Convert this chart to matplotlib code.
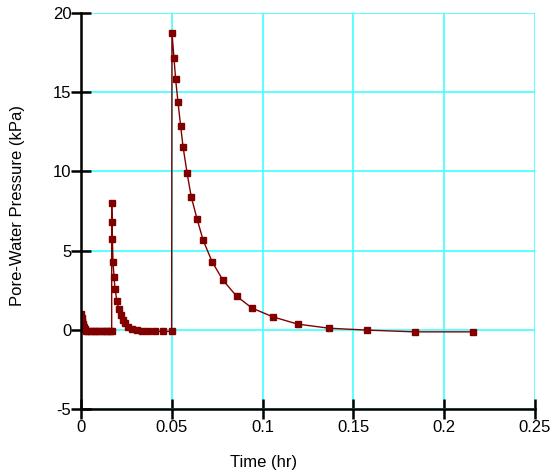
import numpy as np
import matplotlib
matplotlib.use("Agg")
from matplotlib import pyplot as plt

plt.rcParams["font.family"] = ["Liberation Sans", "DejaVu Sans"]
plt.rcParams["axes.unicode_minus"] = False

# time (hr) and pore-water pressure (kPa)
time_hr = [
    0.0, 0.0003, 0.0006, 0.0010, 0.0015, 0.0021, 0.0030,
    0.0040, 0.0055, 0.0070, 0.0085, 0.0100, 0.0115, 0.0130, 0.0145, 0.0158, 0.0169,
    0.0169, 0.0171, 0.0173, 0.0176, 0.0182, 0.0187, 0.0198, 0.0209, 0.0219,
    0.0229, 0.0242, 0.0259, 0.0279, 0.0307, 0.0334, 0.0369, 0.0407, 0.0452, 0.0499,
    0.0501, 0.0512, 0.0521, 0.0534, 0.0549, 0.0562, 0.0584, 0.0607, 0.0639,
    0.0673, 0.0723, 0.0782, 0.0857, 0.0942, 0.1056, 0.1193, 0.1366, 0.1575,
    0.1838, 0.2160,
]
pressure_kpa = [
    1.0, 0.75, 0.55, 0.38, 0.2, 0.05, -0.05,
    -0.1, -0.1, -0.1, -0.1, -0.1, -0.1, -0.1, -0.1, -0.1, -0.1,
    8.0, 6.8, 5.75, 4.3, 3.35, 2.6, 1.8, 1.3, 0.92,
    0.6, 0.4, 0.2, 0.06, -0.04, -0.08, -0.1, -0.1, -0.1, -0.1,
    18.75, 17.17, 15.83, 14.37, 12.84, 11.55, 9.91, 8.4, 7.0,
    5.64, 4.27, 3.13, 2.12, 1.37, 0.82, 0.36, 0.1, -0.02,
    -0.13, -0.13,
]

x_ticks = [0, 0.05, 0.1, 0.15, 0.2, 0.25]
x_labels = ["0", "0.05", "0.1", "0.15", "0.2", "0.25"]
y_ticks = [-5, 0, 5, 10, 15, 20]

fig = plt.figure(figsize=(5.54, 4.75), dpi=100)
ax = fig.add_axes([81 / 554, 66 / 475, 454 / 554, 396 / 475])

ax.plot(time_hr, pressure_kpa, color="#800000", linewidth=1.0,
        marker="s", markersize=4.3, markeredgecolor="#800000", zorder=3)

ax.set_xlim(0, 0.25)
ax.set_ylim(-5, 20)
ax.set_xticks(x_ticks)
ax.set_xticklabels(x_labels)
ax.set_yticks(y_ticks)

ax.grid(True, color="#40FFFF", linewidth=1.2)
ax.set_axisbelow(True)
for side in ["top", "right"]:
    ax.spines[side].set_visible(False)
for side in ["left", "bottom"]:
    ax.spines[side].set_linewidth(1.8)
    ax.spines[side].set_zorder(4)

ax.tick_params(axis="both", direction="inout", length=14, width=1.8,
               labelsize=12)
ax.tick_params(axis="y", pad=0)
ax.tick_params(axis="x", pad=1)

fig.text(264 / 554, 1 - 463 / 475, "Time (hr)", ha="center", va="center",
         fontsize=12)
fig.text(18 / 554, 1 - 205 / 475, "Pore-Water Pressure (kPa)", ha="center",
         va="center", rotation=90, fontsize=12)

fig.savefig("out.png", dpi=100)
